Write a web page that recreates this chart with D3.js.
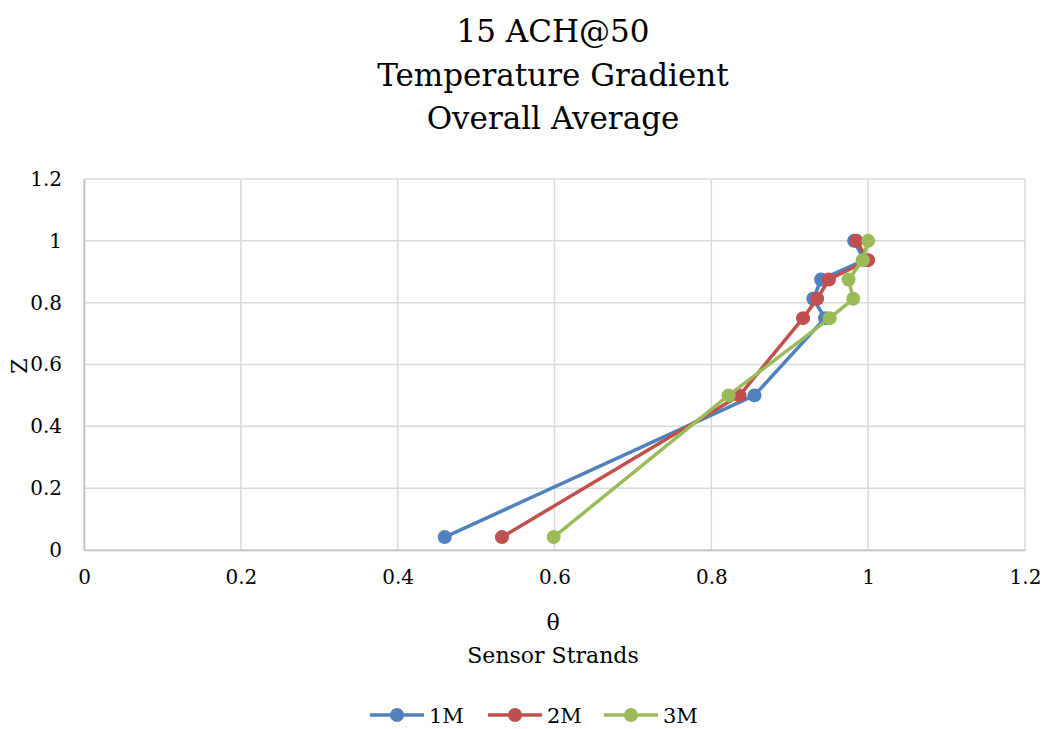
<!DOCTYPE html>
<html>
<head>
<meta charset="utf-8">
<script src="https://cdn.jsdelivr.net/npm/d3@7"></script>
<style>
  html, body { margin: 0; padding: 0; background: #fff; }
  svg { display: block; }
  text { font-family: "DejaVu Serif", "Liberation Serif", serif; fill: #000; }
</style>
</head>
<body>
<svg id="chart" width="1045" height="729"></svg>
<script>
// Dimensionless height (Z) of each sensor, bottom to top
const zLevels = [0.0417, 0.5, 0.75, 0.8125, 0.875, 0.9375, 1.0];

// Dimensionless temperature (θ) per sensor strand
const theta1M = [0.460, 0.855, 0.945, 0.930, 0.940, 0.995, 0.982];
const theta2M = [0.533, 0.836, 0.917, 0.935, 0.950, 1.000, 0.985];
const theta3M = [0.599, 0.822, 0.951, 0.981, 0.975, 0.993, 1.000];

const seriesNames = ["1M", "2M", "3M"];
const seriesColors = ["#4F81BD", "#C0504D", "#9BBB59"];

const xTicks = [0, 0.2, 0.4, 0.6, 0.8, 1, 1.2];
const yTicks = [0, 0.2, 0.4, 0.6, 0.8, 1, 1.2];

const titleLines = ["15 ACH@50", "Temperature Gradient", "Overall Average"];

const svg = d3.select("#chart");
const plot = { left: 84, right: 1025, top: 179, bottom: 550 };

const x = d3.scaleLinear().domain([0, 1.2]).range([plot.left, plot.right]);
const y = d3.scaleLinear().domain([0, 1.2]).range([plot.bottom, plot.top]);

// Gridlines
const grid = svg.append("g");
grid.selectAll(".vg").data(xTicks).enter().append("line")
  .attr("x1", d => x(d)).attr("x2", d => x(d))
  .attr("y1", plot.top).attr("y2", plot.bottom)
  .attr("stroke", "#d9d9d9").attr("stroke-width", 1.5);
grid.selectAll(".hg").data(yTicks).enter().append("line")
  .attr("x1", plot.left).attr("x2", plot.right)
  .attr("y1", d => y(d)).attr("y2", d => y(d))
  .attr("stroke", "#d9d9d9").attr("stroke-width", 1.5);

// Axes (labels only, lines come from the grid)
const fmt = d => String(d);
const xAxis = svg.append("g")
  .attr("transform", `translate(0,${plot.bottom})`)
  .call(d3.axisBottom(x).tickValues(xTicks).tickFormat(fmt).tickSize(0).tickPadding(20));
xAxis.select(".domain").attr("stroke", "#bfbfbf").attr("stroke-width", 1.5);
xAxis.selectAll("text").style("font-size", "20px").style("font-family", "DejaVu Serif");

const yAxis = svg.append("g")
  .attr("transform", `translate(${plot.left},0)`)
  .call(d3.axisLeft(y).tickValues(yTicks).tickFormat(fmt).tickSize(0).tickPadding(22));
yAxis.select(".domain").attr("stroke", "#bfbfbf").attr("stroke-width", 1.5);
yAxis.selectAll("text").style("font-size", "20px").style("font-family", "DejaVu Serif");

// Title
svg.append("g").selectAll("text").data(titleLines).enter().append("text")
  .attr("x", 553).attr("y", (d, i) => 42 + i * 43.5)
  .attr("text-anchor", "middle")
  .style("font-size", "31px")
  .text(d => d);

// Axis titles
svg.append("text").attr("x", 553).attr("y", 630)
  .attr("text-anchor", "middle").style("font-size", "22px").text("θ");
svg.append("text").attr("x", 553).attr("y", 663)
  .attr("text-anchor", "middle").style("font-size", "22px").text("Sensor Strands");
svg.append("text")
  .attr("transform", "translate(27,366) rotate(-90)")
  .attr("text-anchor", "middle").style("font-size", "22px").text("Z");

// Series
const seriesValues = [theta1M, theta2M, theta3M];
const line = d3.line().x(d => x(d[0])).y(d => y(d[1]));

seriesValues.forEach((vals, s) => {
  const pts = vals.map((v, i) => [v, zLevels[i]]);
  const g = svg.append("g");
  g.append("path").datum(pts)
    .attr("d", line)
    .attr("fill", "none")
    .attr("stroke", seriesColors[s])
    .attr("stroke-width", 3.5)
    .attr("stroke-linejoin", "round");
  g.selectAll("circle").data(pts).enter().append("circle")
    .attr("cx", d => x(d[0])).attr("cy", d => y(d[1]))
    .attr("r", 7)
    .attr("fill", seriesColors[s]);
});

// Legend
const legendX = [370, 488, 604];
const legend = svg.append("g");
seriesNames.forEach((name, i) => {
  const lx = legendX[i];
  legend.append("line")
    .attr("x1", lx).attr("x2", lx + 54)
    .attr("y1", 715).attr("y2", 715)
    .attr("stroke", seriesColors[i]).attr("stroke-width", 3.5);
  legend.append("circle")
    .attr("cx", lx + 27).attr("cy", 715).attr("r", 7)
    .attr("fill", seriesColors[i]);
  legend.append("text")
    .attr("x", lx + 59).attr("y", 723)
    .style("font-size", "21px")
    .text(name);
});
</script>
</body>
</html>
